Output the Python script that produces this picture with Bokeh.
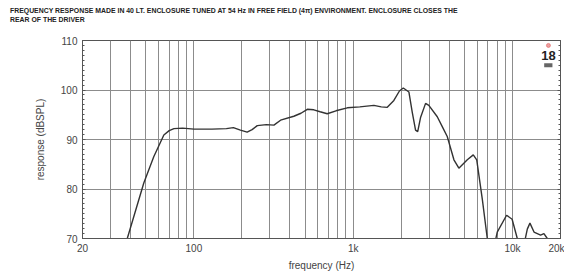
from bokeh.plotting import figure
from bokeh.layouts import column
from bokeh.models import (Range1d, FixedTicker, SingleIntervalTicker, LinearAxis, Label, Div,
                          CustomJSTickFormatter)
from bokeh.embed import file_html
from bokeh.resources import INLINE

# ---- data ----
freq = [34, 38.2, 48.5, 56, 64.8, 70, 75, 85, 100, 130, 160, 177, 196, 216, 232, 250,
        285, 318, 350, 424, 470, 515, 566, 620, 687, 780, 918, 1100, 1348, 1500, 1636,
        1800, 1950, 2062, 2236, 2348, 2462, 2540, 2650, 2846, 2983, 3370, 3622, 3892,
        4287, 4604, 5200, 5671, 5960, 6457, 6943, 7400, 8017, 9175, 9940, 10710, 11500,
        12380, 12860, 13640, 15000, 15740, 16520, 17500]
spl = [64, 70, 81.2, 86.5, 90.9, 91.8, 92.2, 92.3, 92.1, 92.1, 92.2, 92.4, 91.9, 91.5, 92.0, 92.8,
       93.0, 92.9, 93.9, 94.7, 95.3, 96.1, 96.0, 95.6, 95.2, 95.8, 96.4, 96.6, 96.9, 96.6, 96.5,
       97.9, 99.8, 100.4, 99.6, 95.5, 91.9, 91.6, 94.5, 97.3, 96.9, 94.6, 92.6, 90.6,
       85.9, 84.2, 85.9, 86.9, 85.9, 78.0, 70.0, 66, 71.3, 74.7, 73.9, 70.0, 67,
       71.9, 73.1, 71.3, 70.7, 71.0, 70.0, 67]

x_tick_values = [20, 100, 1000, 10000, 20000]
x_tick_labels = ["20", "100", "1k", "10k", "20k"]
x_grid_values = [20, 30, 40, 50, 60, 70, 80, 90,
                 100, 200, 300, 400, 500, 600, 700, 800, 900,
                 1000, 2000, 3000, 4000, 5000, 6000, 7000, 8000, 9000,
                 10000, 20000]
y_tick_values = [70, 80, 90, 100, 110]

title_lines = ["FREQUENCY RESPONSE MADE IN 40 LT. ENCLOSURE TUNED AT 54 Hz IN FREE FIELD (4\u03c0) "
               "ENVIRONMENT. ENCLOSURE CLOSES THE",
               "REAR OF THE DRIVER"]
logo_text = "18"
logo_x, logo_y = 16800, 107.0

FONT = "Liberation Sans"
GRID = "#8c8c8c"
AX = "#555555"

title_div = Div(
    text=('<div style="margin:0; padding:5.5px 0 0 10px; font-family:\'Liberation Sans\'; '
          'font-size:6.9px; font-weight:bold; line-height:9px; color:#222222; white-space:nowrap;">'
          + "<br>".join(title_lines) + "</div>"),
    width=564, height=32, margin=0)

p = figure(width=564, height=241, x_axis_type="log",
           x_range=Range1d(20, 20000), y_range=Range1d(70, 110),
           output_backend="svg", toolbar_location=None,
           min_border_left=82, min_border_right=4, min_border_top=8, min_border_bottom=33)
p.margin = 0

p.outline_line_color = AX
p.outline_line_width = 1

# x axis
xa = p.xaxis[0]
xa.ticker = FixedTicker(ticks=x_tick_values)
xa.major_label_overrides = {v: l for v, l in zip(x_tick_values, x_tick_labels)}
xa.major_tick_in = 0
xa.major_tick_out = 0
xa.minor_tick_in = 0
xa.minor_tick_out = 0
xa.axis_line_color = AX
xa.major_label_text_font = FONT
xa.major_label_text_font_size = "10px"
xa.major_label_text_color = "#444444"
xa.major_label_standoff = 4
xa.axis_label = "frequency (Hz)"
xa.axis_label_text_font = FONT
xa.axis_label_text_font_size = "10px"
xa.axis_label_text_font_style = "normal"
xa.axis_label_text_color = "#444444"
xa.axis_label_standoff = 3

# y axis
ya = p.yaxis[0]
ya.ticker = SingleIntervalTicker(interval=10, num_minor_ticks=10)
ya.major_tick_in = 3
ya.major_tick_out = 0
ya.minor_tick_in = 2
ya.minor_tick_out = 0
ya.major_tick_line_color = AX
ya.minor_tick_line_color = AX
ya.axis_line_color = AX
ya.major_label_text_font = FONT
ya.major_label_text_font_size = "10px"
ya.major_label_text_color = "#444444"
ya.major_label_standoff = 5
ya.axis_label = "response (dBSPL)"
ya.axis_label_text_font = FONT
ya.axis_label_text_font_size = "10px"
ya.axis_label_text_font_style = "normal"
ya.axis_label_text_color = "#444444"
ya.axis_label_standoff = 12

ra = LinearAxis(ticker=SingleIntervalTicker(interval=10, num_minor_ticks=10),
                formatter=CustomJSTickFormatter(code="return ''"))
ra.major_tick_in = 3
ra.major_tick_out = 0
ra.minor_tick_in = 2
ra.minor_tick_out = 0
ra.major_tick_line_color = AX
ra.minor_tick_line_color = AX
ra.axis_line_color = AX
ra.major_label_standoff = 0
p.add_layout(ra, "right")

# grids
p.xgrid.ticker = FixedTicker(ticks=x_grid_values)
p.xgrid.grid_line_color = GRID
p.xgrid.grid_line_width = 1
p.ygrid.ticker = FixedTicker(ticks=y_tick_values)
p.ygrid.grid_line_color = GRID
p.ygrid.grid_line_width = 1

p.line(freq, spl, line_color="#333333", line_width=1.4)

# logo
p.scatter([logo_x], [logo_y + 2.0], size=4, color="#e06060", alpha=0.6)
p.add_layout(Label(x=logo_x, y=logo_y, text=logo_text, text_font=FONT, text_font_size="13px",
                   text_font_style="bold", text_color="#222222", text_align="center",
                   text_baseline="middle"))
p.rect([logo_x], [logo_y - 2.0], width=2000, height=0.8, fill_color="#666666", line_color=None)

layout = column(title_div, p, spacing=0, margin=0)

open("out.html", "w").write(file_html(layout, INLINE))
